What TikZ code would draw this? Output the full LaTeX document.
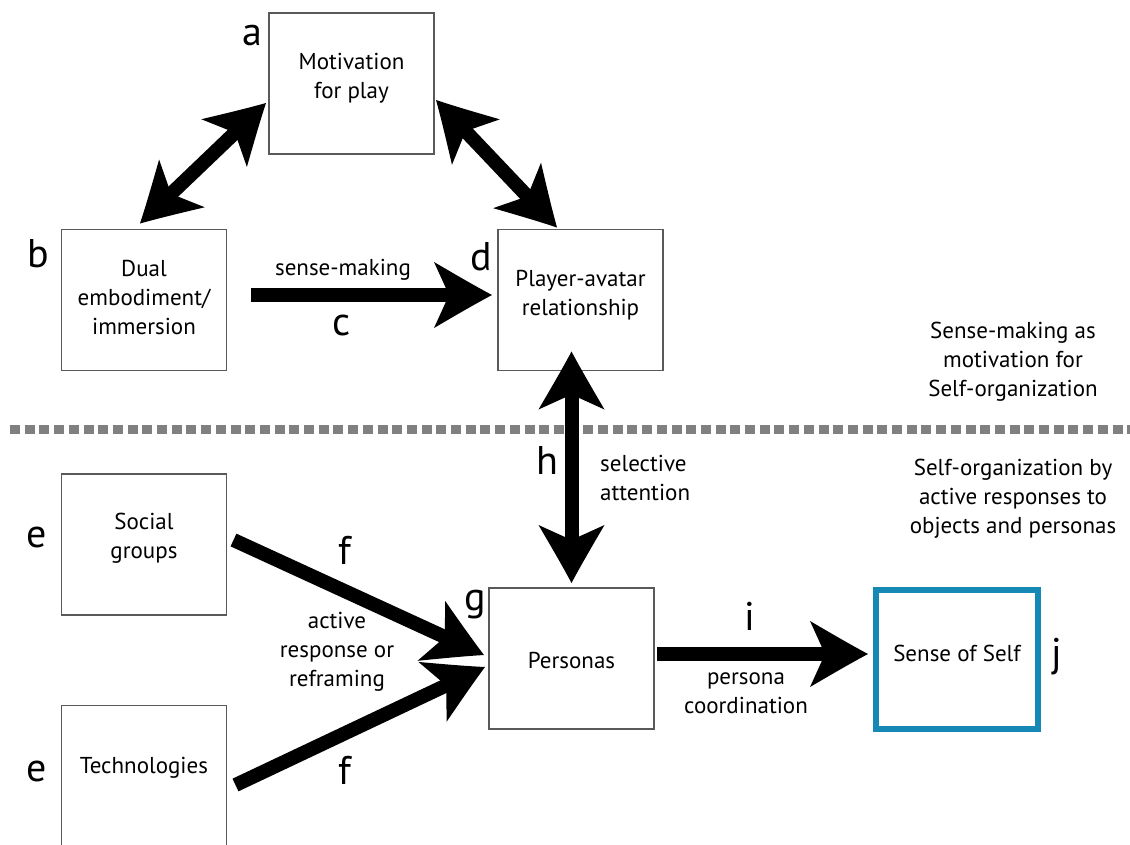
\documentclass[tikz,border=0pt]{standalone}
\usepackage{fontspec}
\setmainfont{PT Sans}
\usetikzlibrary{arrows.meta,calc}

% Heavy swept arrow head with concave flanks and a notched back
\pgfdeclarearrow{
  name = Swept,
  defaults = {length = 58pt, width = 66pt, inset = 15pt},
  setup code = {
    \pgfarrowssettipend{0pt}
    \pgfarrowssetbackend{-\pgfarrowlength}
    \pgfarrowssetlineend{-0.5\pgfarrowlength}
    \pgfarrowsupperhullpoint{-\pgfarrowlength}{0.5\pgfarrowwidth}
    \pgfarrowssavethe\pgfarrowlength
    \pgfarrowssavethe\pgfarrowwidth
    \pgfarrowssavethe\pgfarrowinset
  },
  drawing code = {
    \pgfpathmoveto{\pgfpoint{0pt}{0pt}}
    \pgfpathcurveto
      {\pgfpoint{-0.3*\pgfarrowlength}{0.14*\pgfarrowwidth}}
      {\pgfpoint{-0.65*\pgfarrowlength}{0.32*\pgfarrowwidth}}
      {\pgfpoint{-\pgfarrowlength}{0.5*\pgfarrowwidth}}
    \pgfpathlineto{\pgfpoint{-\pgfarrowlength+\pgfarrowinset}{0pt}}
    \pgfpathlineto{\pgfpoint{-\pgfarrowlength}{-0.5*\pgfarrowwidth}}
    \pgfpathcurveto
      {\pgfpoint{-0.65*\pgfarrowlength}{-0.32*\pgfarrowwidth}}
      {\pgfpoint{-0.3*\pgfarrowlength}{-0.14*\pgfarrowwidth}}
      {\pgfpoint{0pt}{0pt}}
    \pgfpathclose
    \pgfusepathqfill
  },
  parameters = {\the\pgfarrowlength,\the\pgfarrowwidth,\the\pgfarrowinset},
}

\definecolor{boxgray}{gray}{0.35}
\definecolor{dashgray}{gray}{0.5}
\definecolor{selfblue}{RGB}{22,136,182}

\newcommand\diagbody{\fontsize{23}{29}\selectfont}
\newcommand\diagtag{\fontsize{40}{40}\selectfont}

\begin{document}
\begin{tikzpicture}[x=1pt,y=-1pt,
  box/.style={draw=boxgray, line width=1.5pt, minimum width=165pt,
    minimum height=141pt, inner sep=0pt, outer sep=0pt},
  boxtext/.style={font=\diagbody, align=center, inner sep=0pt},
  note/.style={font=\diagbody, align=center, inner sep=0pt},
  tag/.style={font=\diagtag, inner sep=0pt},
  flow/.style={line width=14pt, -{Swept}},
  both/.style={line width=14pt, {Swept}-{Swept}},
]
\clip (0,0) rectangle (1130,844);

% phase divider
\draw[dashgray, line width=9pt, dash pattern=on 10pt off 4.7pt]
  (10,429.5) -- (1130,429.5);

% boxes
\node[box] (a)    at (351.5,83.5)  {};
\node[box] (b)    at (144,300)     {};
\node[box] (d)    at (580.5,300)   {};
\node[box] (soc)  at (144,544.5)   {};
\node[box] (tech) at (144,776)     {};
\node[box] (g)    at (571.5,658.5) {};
\node[box, draw=selfblue, line width=6pt, minimum width=162pt,
  minimum height=139pt] (j) at (957,659.5) {};

% box captions
\node[boxtext] (a-txt)    at ($(a)+(0,-5.5)$)    {Motivation\\for play};
\node[boxtext] (b-txt)    at ($(b)+(0,-3)$)      {Dual\\embodiment/\\immersion};
\node[boxtext] (d-txt)    at ($(d)+(0,-5)$)      {Player-avatar\\relationship};
\node[boxtext] (soc-txt)  at ($(soc)+(0,-6.5)$)  {Social\\groups};
\node[boxtext] (tech-txt) at ($(tech)+(0,-8)$)   {Technologies};
\node[boxtext] (g-txt)    at ($(g)+(0,1.5)$)     {Personas};
\node[boxtext] (j-txt)    at ($(j)+(0,-6.5)$)    {Sense of Self};

% letter tags
\node[tag] (ta)  at (252,35)   {a};
\node[tag] (tb)  at (38,254)   {b};
\node[tag] (tc)  at (342,325)  {c};
\node[tag] (td)  at (481,257)  {d};
\node[tag] (te1) at (37,537)   {e};
\node[tag] (te2) at (37,771)   {e};
\node[tag] (tf1) at (345,550)  {f};
\node[tag] (tf2) at (345,770)  {f};
\node[tag] (tg)  at (475,605)  {g};
\node[tag] (th)  at (547,460)  {h};
\node[tag] (ti)  at (750,616)  {i};
\node[tag] (tj)  at (1057,657) {j};

% connector captions
\node[note] (sm)  at (343,270)  {sense-making};
\node[note] (arr) at (337,652)  {active\\response or\\reframing};
\node[note, align=left, anchor=west] (sel) at (600,477.5) {selective\\attention};
\node[note] (pc)  at (746,693)  {persona\\coordination};
\node[note] (top-note) at (1013,362) {Sense-making as\\motivation for\\Self-organization};
\node[note] (bot-note) at (1013,499) {Self-organization by\\active responses to\\objects and personas};

% connectors
\draw[both] ($(b.north)+(-4,-6)$) -- ($(a.west)+(-3,19.5)$);
\draw[both] ($(a.east)+(2,16.5)$) -- ($(d.north)+(-23.5,-2)$);
\draw[flow] ($(b.east)+(24,-5)$) -- ($(d.west)+(-6,-5)$);
\draw[both] ($(g.north)+(0,-5)$) -- ($(g.north |- d.south)+(0,-19)$);
\draw[flow] ($(soc.east)+(7,-4.5)$) -- ($(g.west)+(-5,-3.5)$);
\draw[flow] ($(tech.east)+(9,9)$) -- ($(g.west)+(-4,8.5)$);
\draw[flow] ($(g.east)+(3,-4.5)$) -- ($(j.west)+(-8,-5.5)$);
\end{tikzpicture}
\end{document}
